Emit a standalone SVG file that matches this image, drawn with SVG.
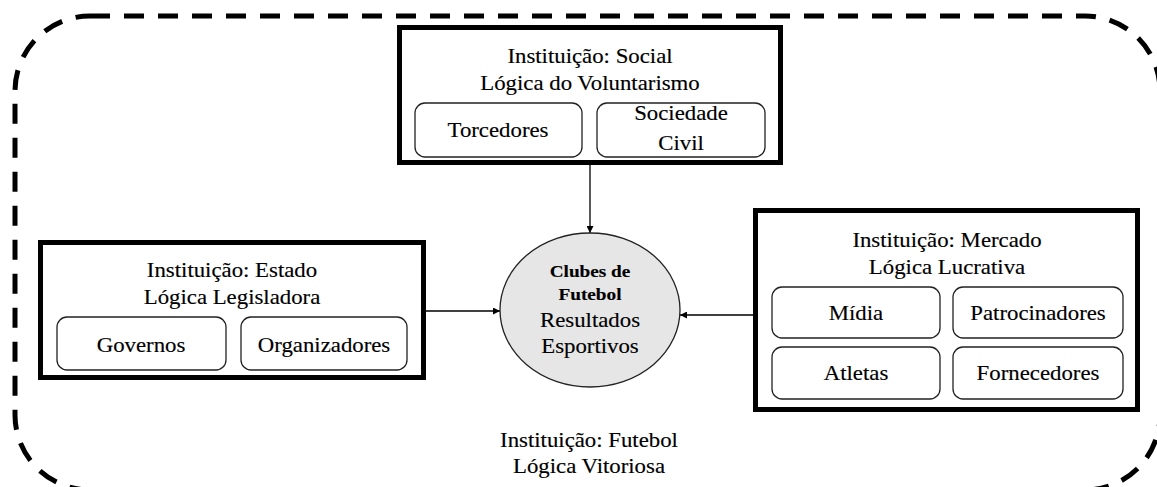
<svg xmlns="http://www.w3.org/2000/svg" width="1157" height="487" viewBox="0 0 1157 487">
  <style>
    .frame { fill: none; stroke: #000; stroke-width: 5; stroke-dasharray: 20 14; }
    .inst { fill: #fff; stroke: #000; stroke-width: 5; }
    .actor { fill: #fff; stroke: #222; stroke-width: 1.3; }
    .club { fill: #e6e6e6; stroke: #222; stroke-width: 1.3; }
    .link { stroke: #000; stroke-width: 1.3; fill: none; }
    .t { font-size: 20px; fill: #000; stroke: #000; stroke-width: 0.15; text-anchor: middle; }
    .b { font-weight: bold; font-size: 17.5px; }
  </style>
  <defs>
    <marker id="arrow" viewBox="0 0 10 10" refX="10" refY="5" markerWidth="8" markerHeight="7" markerUnits="userSpaceOnUse" orient="auto">
      <path d="M0,0 L10,5 L0,10 z" fill="#000"/>
    </marker>
  </defs>

  <g font-family="Liberation Serif, DejaVu Serif, Times New Roman, serif">
  <!-- outer field: football institution -->
  <g id="futebol">
    <rect class="frame" x="15" y="16" width="1145" height="474" rx="75" ry="75"/>
    <text class="t" transform="translate(589 447) scale(1.14 1)">Instituição: Futebol</text>
    <text class="t" transform="translate(589 473) scale(1.14 1)">Lógica Vitoriosa</text>
  </g>

  <!-- connectors -->
  <g id="connectors">
    <line class="link" x1="590" y1="165" x2="590" y2="233" marker-end="url(#arrow)"/>
    <line class="link" x1="426" y1="311" x2="500" y2="311" marker-end="url(#arrow)"/>
    <line class="link" x1="753" y1="315" x2="680" y2="315" marker-end="url(#arrow)"/>
  </g>

  <!-- social institution -->
  <g id="social">
    <rect class="inst" x="399.5" y="27.5" width="381" height="135"/>
    <text class="t" transform="translate(590 63) scale(1.14 1)">Instituição: Social</text>
    <text class="t" transform="translate(590 90) scale(1.14 1)">Lógica do Voluntarismo</text>
    <rect class="actor" x="415" y="103" width="167" height="54" rx="10"/>
    <text class="t" transform="translate(498 137) scale(1.14 1)">Torcedores</text>
    <rect class="actor" x="597" y="103" width="168" height="54" rx="10"/>
    <text class="t" transform="translate(681 120) scale(1.14 1)">Sociedade</text>
    <text class="t" transform="translate(681 150) scale(1.14 1)">Civil</text>
  </g>

  <!-- state institution -->
  <g id="estado">
    <rect class="inst" x="40.5" y="242.5" width="383" height="135"/>
    <text class="t" transform="translate(232 277) scale(1.14 1)">Instituição: Estado</text>
    <text class="t" transform="translate(232 304) scale(1.14 1)">Lógica Legisladora</text>
    <rect class="actor" x="57" y="317" width="169" height="53" rx="10"/>
    <text class="t" transform="translate(141 352) scale(1.14 1)">Governos</text>
    <rect class="actor" x="241" y="317" width="166" height="53" rx="10"/>
    <text class="t" transform="translate(324 352) scale(1.14 1)">Organizadores</text>
  </g>

  <!-- market institution -->
  <g id="mercado">
    <rect class="inst" x="755.5" y="210.5" width="382" height="199"/>
    <text class="t" transform="translate(947 247) scale(1.14 1)">Instituição: Mercado</text>
    <text class="t" transform="translate(947 274) scale(1.14 1)">Lógica Lucrativa</text>
    <rect class="actor" x="772" y="287" width="168" height="51" rx="10"/>
    <text class="t" transform="translate(856 320) scale(1.14 1)">Mídia</text>
    <rect class="actor" x="953" y="287" width="170" height="51" rx="10"/>
    <text class="t" transform="translate(1038 320) scale(1.14 1)">Patrocinadores</text>
    <rect class="actor" x="772" y="347" width="168" height="52" rx="10"/>
    <text class="t" transform="translate(856 380) scale(1.14 1)">Atletas</text>
    <rect class="actor" x="953" y="347" width="170" height="52" rx="10"/>
    <text class="t" transform="translate(1038 380) scale(1.14 1)">Fornecedores</text>
  </g>

  <!-- football clubs -->
  <g id="clubes">
    <ellipse class="club" cx="590" cy="310" rx="90" ry="77"/>
    <text class="t b" transform="translate(590 277) scale(1.1 1)">Clubes de</text>
    <text class="t b" transform="translate(590 300) scale(1.1 1)">Futebol</text>
    <text class="t" transform="translate(590 327) scale(1.14 1)">Resultados</text>
    <text class="t" transform="translate(590 353) scale(1.14 1)">Esportivos</text>
  </g>
  </g>
</svg>
